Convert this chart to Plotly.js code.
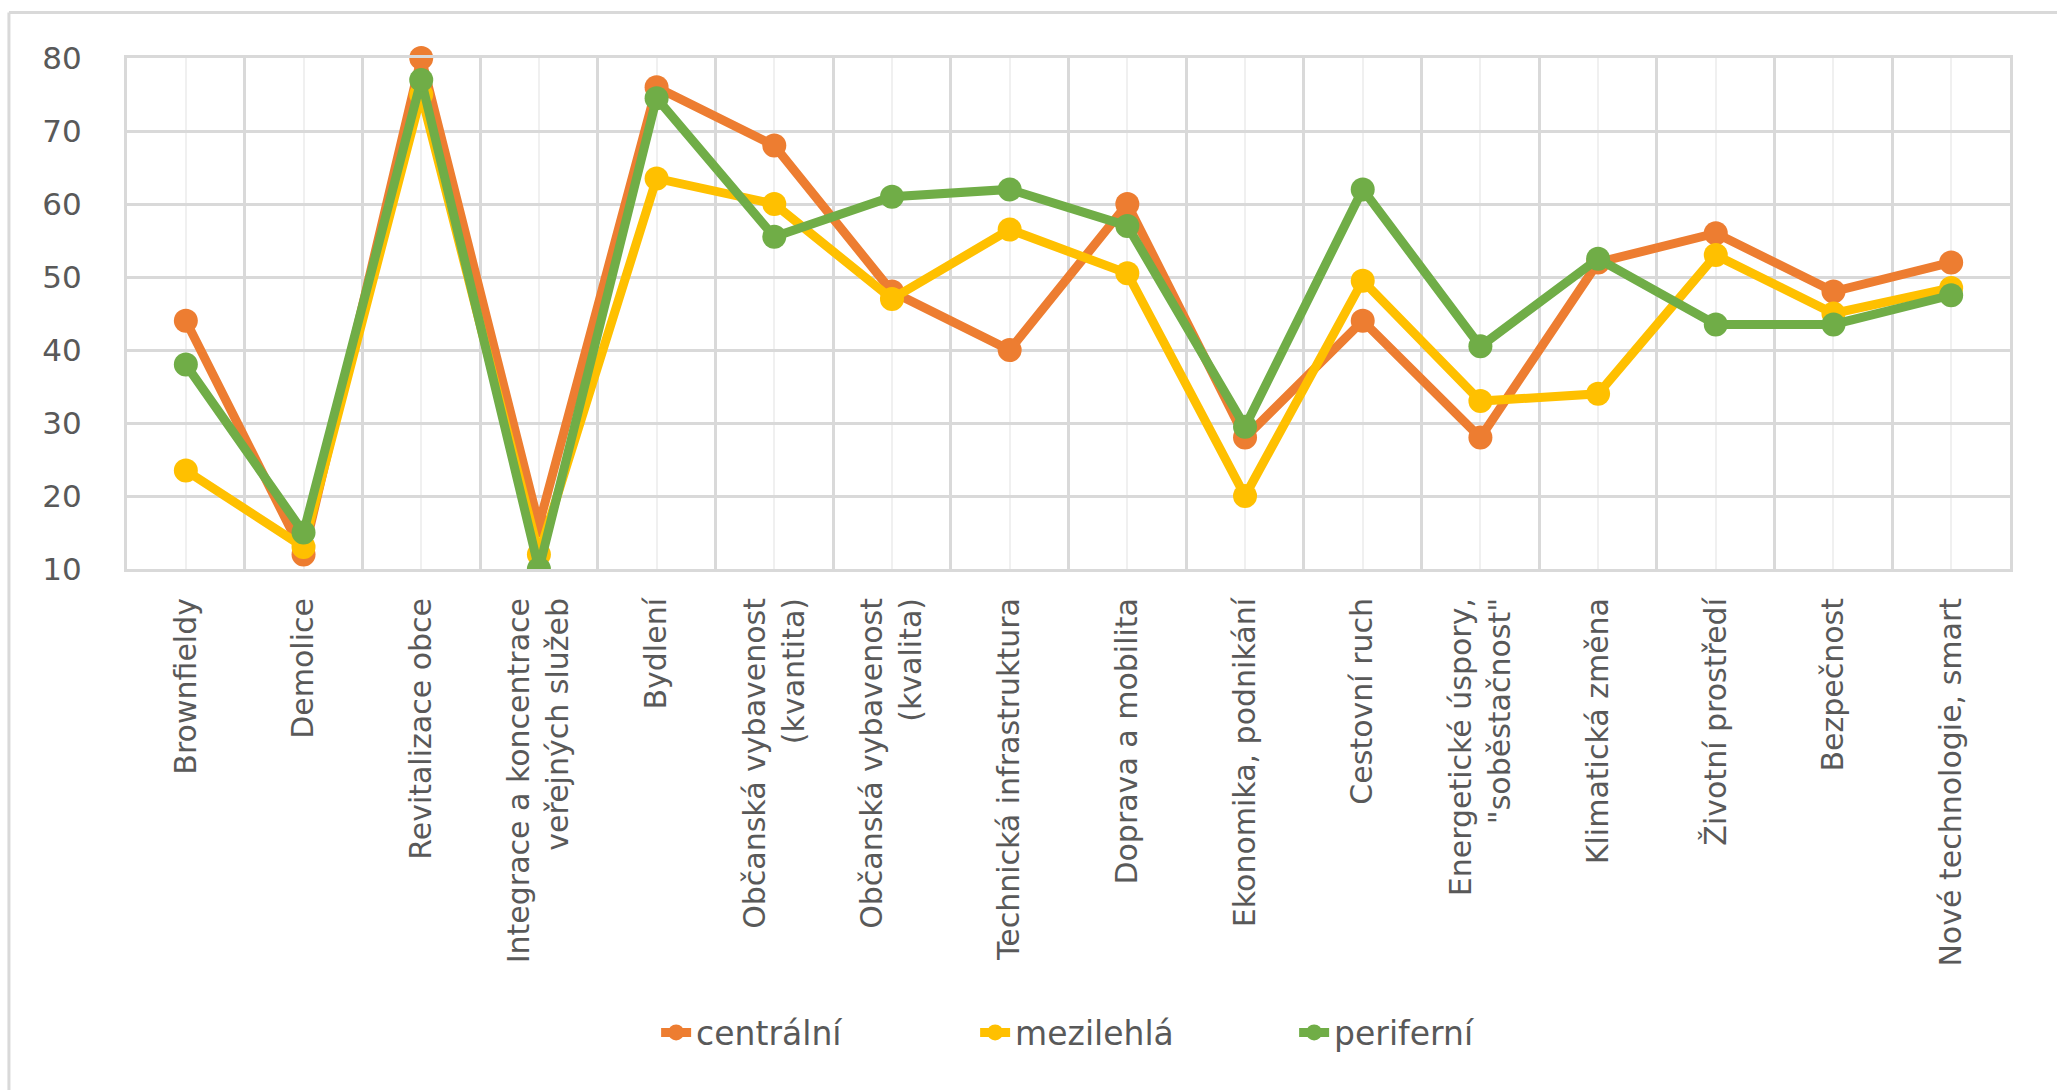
<!DOCTYPE html>
<html>
<head>
<meta charset="utf-8">
<script src="https://cdn.plot.ly/plotly-3.0.1.min.js"></script>
<style>
  html, body { margin: 0; padding: 0; background: #ffffff; }
  #chart { width: 2057px; height: 1090px; }
</style>
</head>
<body>
<div id="chart"></div>
<script>
const categories = [
  "Brownfieldy",
  "Demolice",
  "Revitalizace obce",
  "Integrace a koncentrace<br>veřejných služeb",
  "Bydlení",
  "Občanská vybavenost<br>(kvantita)",
  "Občanská vybavenost<br>(kvalita)",
  "Technická infrastruktura",
  "Doprava a mobilita",
  "Ekonomika, podnikání",
  "Cestovní ruch",
  "Energetické úspory,<br>\"soběstačnost\"",
  "Klimatická změna",
  "Životní prostředí",
  "Bezpečnost",
  "Nové technologie, smart"
];
const centralni = [44, 12, 80, 16, 76, 68, 48, 40, 60, 28, 44, 28, 52, 56, 48, 52];
const mezilehla = [23.5, 13, 75, 12, 63.5, 60, 47, 56.5, 50.5, 20, 49.5, 33, 34, 53, 45, 48.5];
const periferni = [38, 15, 77, 10, 74.5, 55.5, 61, 62, 57, 29.5, 62, 40.5, 52.5, 43.5, 43.5, 47.5];
const seriesNames = ["centrální", "mezilehlá", "periferní"];
const yTicks = [10, 20, 30, 40, 50, 60, 70, 80];

const xIdx = categories.map((c, i) => i);
const colors = ["#ED7D31", "#FFC000", "#70AD47"];
const series = [centralni, mezilehla, periferni];
const clip = [false, true, true];

const traces = series.map((vals, k) => ({
  type: "scatter",
  mode: "lines+markers",
  name: seriesNames[k],
  x: xIdx,
  y: vals,
  line: { color: colors[k], width: 9 },
  marker: { color: colors[k], size: 24 },
  cliponaxis: clip[k]
}));

const font = { family: "DejaVu Sans, sans-serif", color: "#595959" };

const layout = {
  width: 2057,
  height: 1090,
  paper_bgcolor: "#ffffff",
  plot_bgcolor: "#ffffff",
  margin: { l: 127, r: 47, t: 58, b: 521, pad: 0 },
  showlegend: true,
  legend: {
    orientation: "h",
    x: 0.281,
    xanchor: "left",
    y: -0.907,
    yanchor: "middle",
    entrywidth: 274,
    entrywidthmode: "pixels",
    font: Object.assign({ size: 33 }, font),
    bgcolor: "rgba(0,0,0,0)"
  },
  xaxis: {
    type: "linear",
    range: [-0.5, categories.length - 0.5],
    tickmode: "array",
    tickvals: xIdx,
    ticktext: categories,
    tickangle: -90,
    ticks: "",
    ticklabelstandoff: 14,
    tickfont: Object.assign({ size: 30 }, font),
    showgrid: true,
    gridcolor: "#F0F0F0",
    gridwidth: 2,
    minor: {
      tickmode: "linear",
      tick0: -0.5,
      dtick: 1,
      showgrid: true,
      gridcolor: "#D9D9D9",
      gridwidth: 3,
      ticks: ""
    },
    zeroline: false,
    showline: true,
    linecolor: "#D9D9D9",
    linewidth: 3,
    mirror: true,
    fixedrange: true
  },
  yaxis: {
    range: [10, 80],
    tickmode: "array",
    tickvals: yTicks,
    ticktext: yTicks.map(String),
    ticks: "",
    ticklabelstandoff: 36,
    tickfont: Object.assign({ size: 31 }, font),
    showgrid: true,
    gridcolor: "#D9D9D9",
    gridwidth: 3,
    zeroline: false,
    showline: true,
    linecolor: "#D9D9D9",
    linewidth: 3,
    mirror: true,
    fixedrange: true
  },
  shapes: [
    { type: "line", xref: "paper", yref: "paper", x0: -0.0627, x1: 1.03, y0: 1.0888, y1: 1.0888,
      line: { color: "#D9D9D9", width: 3 } },
    { type: "line", xref: "paper", yref: "paper", x0: -0.0627, x1: -0.0627, y0: 1.0888, y1: -1.03,
      line: { color: "#D9D9D9", width: 3 } }
  ]
};

Plotly.newPlot("chart", traces, layout, { displayModeBar: false, staticPlot: true });
</script>
</body>
</html>
